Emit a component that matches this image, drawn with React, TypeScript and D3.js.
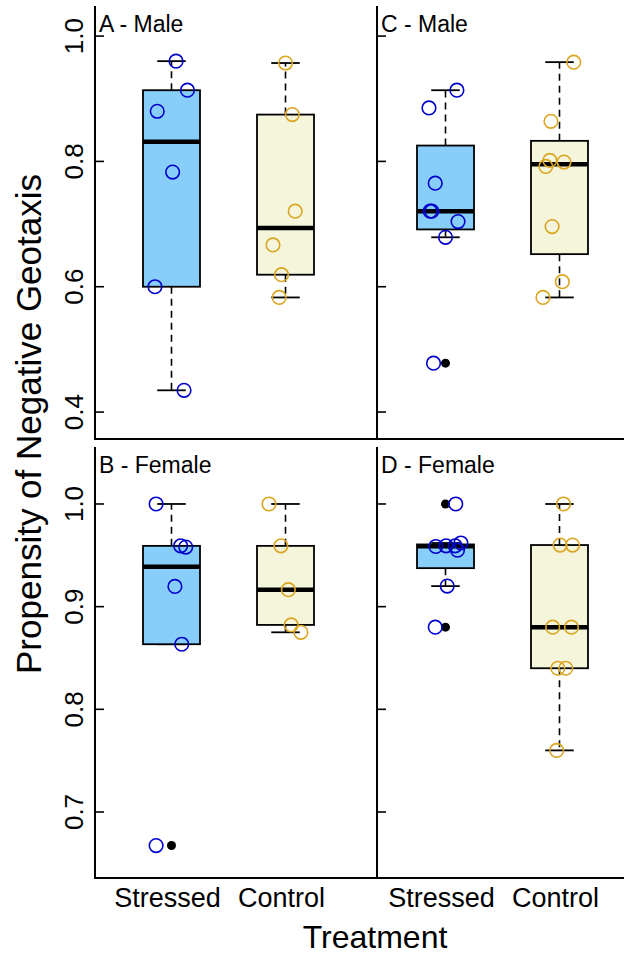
import React from 'react';
import * as d3 from 'd3';

// groups on the x axis
const categories = ['Stressed', 'Control'];
const panelTitles = ['A - Male', 'C - Male', 'B - Female', 'D - Female'];

// propensity values (one array per box)
const aStressed = [0.96, 0.9136, 0.88, 0.783, 0.6, 0.4347];
const aControl = [0.957, 0.8747, 0.7205, 0.6667, 0.6192, 0.5829];
const cStressed = [0.9136, 0.8853, 0.7653, 0.7205, 0.7205, 0.704, 0.6789, 0.478];
const cControl = [0.9584, 0.864, 0.8016, 0.792, 0.7989, 0.696, 0.608, 0.5829];
const bStressed = [1.0, 0.9592, 0.958, 0.9197, 0.8634, 0.6673];
const bControl = [1.0, 0.9592, 0.9165, 0.8822, 0.875];
const dStressed = [1.0, 0.9586, 0.9592, 0.9592, 0.962, 0.955, 0.92, 0.88];
const dControl = [1.0, 0.96, 0.96, 0.88, 0.88, 0.84, 0.84, 0.76];

// horizontal jitter of each point, in group units
const aStressedJit = [0.04, 0.14, -0.125, 0.01, -0.145, 0.11];
const aControlJit = [0.0, 0.06, 0.085, -0.11, -0.035, -0.055];
const cStressedJit = [0.1, -0.145, -0.09, -0.135, -0.12, 0.11, 0.0, -0.105];
const cControlJit = [0.125, -0.075, -0.085, -0.12, 0.04, -0.065, 0.025, -0.145];
const bStressedJit = [-0.135, 0.08, 0.125, 0.03, 0.09, -0.135];
const bControlJit = [-0.145, -0.04, 0.025, 0.05, 0.135];
const dStressedJit = [0.09, -0.085, 0.005, 0.085, 0.135, 0.105, 0.015, -0.09];
const dControlJit = [0.035, 0.005, 0.115, -0.06, 0.105, -0.015, 0.055, -0.025];

// y ticks
const maleTicks = [0.4, 0.6, 0.8, 1.0];
const femaleTicks = [0.7, 0.8, 0.9, 1.0];
const maleLim = [0.357, 1.048];
const femaleLim = [0.6357, 1.0555];

const FONT = "'Liberation Sans', Arial, Helvetica, sans-serif";
const fills = ['#87CEFA', '#F5F5DC'];
const pointCols = ['#0000CD', '#DAA520'];

// R style five number summary + whiskers
function boxStats(values) {
  const x = values.slice().sort(d3.ascending);
  const n = x.length;
  const n4 = Math.floor((n + 3) / 2) / 2;
  const d = [1, n4, (n + 1) / 2, n + 1 - n4, n];
  const fn = d.map((k) => 0.5 * (x[Math.floor(k) - 1] + x[Math.ceil(k) - 1]));
  const iqr = fn[3] - fn[1];
  const lo = fn[1] - 1.5 * iqr;
  const hi = fn[3] + 1.5 * iqr;
  const inside = x.filter((v) => v >= lo && v <= hi);
  return {
    q1: fn[1],
    med: fn[2],
    q3: fn[3],
    wlo: d3.min(inside),
    whi: d3.max(inside),
    out: x.filter((v) => v < lo || v > hi),
  };
}

const panels = [
  { title: panelTitles[0], col: 0, row: 0, groups: [[aStressed, aStressedJit], [aControl, aControlJit]] },
  { title: panelTitles[1], col: 1, row: 0, groups: [[cStressed, cStressedJit], [cControl, cControlJit]] },
  { title: panelTitles[2], col: 0, row: 1, groups: [[bStressed, bStressedJit], [bControl, bControlJit]] },
  { title: panelTitles[3], col: 1, row: 1, groups: [[dStressed, dStressedJit], [dControl, dControlJit]] },
];

const axisX = [95, 377];
const plotX = [114.5, 388.5];
const plotW = 228;
const rowY = [
  { top: 6, bottom: 439 },
  { top: 447, bottom: 878 },
];

function Panel({ p }) {
  const ax = axisX[p.col];
  const { top, bottom } = rowY[p.row];
  const x = d3.scaleLinear().domain([0.5, 2.5]).range([plotX[p.col], plotX[p.col] + plotW]);
  const y = d3
    .scaleLinear()
    .domain(p.row === 0 ? maleLim : femaleLim)
    .range([bottom, top]);
  const ticks = p.row === 0 ? maleTicks : femaleTicks;
  const right = p.col === 0 ? axisX[1] : 640;
  const bw = x(1.25) - x(1);
  const sw = x(1.125) - x(1);

  return (
    <g>
      {p.groups.map(([vals, jit], gi) => {
        const s = boxStats(vals);
        const cx = x(gi + 1);
        return (
          <g key={gi}>
            <line x1={cx} x2={cx} y1={y(s.q3)} y2={y(s.whi)} stroke="#000" strokeWidth={1.6} strokeDasharray="7,5" />
            <line x1={cx} x2={cx} y1={y(s.q1)} y2={y(s.wlo)} stroke="#000" strokeWidth={1.6} strokeDasharray="7,5" />
            <line x1={cx - sw} x2={cx + sw} y1={y(s.whi)} y2={y(s.whi)} stroke="#000" strokeWidth={1.8} />
            <line x1={cx - sw} x2={cx + sw} y1={y(s.wlo)} y2={y(s.wlo)} stroke="#000" strokeWidth={1.8} />
            <rect
              x={cx - bw}
              y={y(s.q3)}
              width={bw * 2}
              height={y(s.q1) - y(s.q3)}
              fill={fills[gi]}
              stroke="#000"
              strokeWidth={1.8}
            />
            <line x1={cx - bw} x2={cx + bw} y1={y(s.med)} y2={y(s.med)} stroke="#000" strokeWidth={4.5} />
            {s.out.map((v, i) => (
              <circle key={i} cx={cx} cy={y(v)} r={4.5} fill="#000" />
            ))}
            {vals.map((v, i) => (
              <circle
                key={'p' + i}
                cx={x(gi + 1 + jit[i])}
                cy={y(v)}
                r={6.8}
                fill="none"
                stroke={pointCols[gi]}
                strokeWidth={1.6}
              />
            ))}
          </g>
        );
      })}
      <line x1={ax} x2={ax} y1={top} y2={bottom + 1} stroke="#000" strokeWidth={2} />
      <line x1={ax} x2={right} y1={bottom} y2={bottom} stroke="#000" strokeWidth={2} />
      {ticks.map((t) => (
        <line key={t} x1={ax} x2={ax + 9} y1={y(t)} y2={y(t)} stroke="#000" strokeWidth={1.6} />
      ))}
      {p.col === 0 &&
        ticks.map((t) => (
          <text
            key={'l' + t}
            transform={`translate(83,${y(t)}) rotate(-90)`}
            textAnchor="middle"
            fontSize={26}
            fontFamily={FONT}
          >
            {d3.format('.1f')(t)}
          </text>
        ))}
      <text x={ax + 4} y={top + 26} fontSize={23} fontFamily={FONT}>
        {p.title}
      </text>
      {p.row === 1 &&
        categories.map((c, i) => (
          <text key={c} x={x(i + 1) - 4} y={907} textAnchor="middle" fontSize={27} fontFamily={FONT}>
            {c}
          </text>
        ))}
    </g>
  );
}

export default function App() {
  return (
    <svg width={624} height={956} style={{ position: 'absolute', left: 0, top: 0, background: '#fff' }}>
      <rect width={624} height={956} fill="#fff" />
      {panels.map((p) => (
        <Panel key={p.title} p={p} />
      ))}
      <text
        transform="translate(41,424) rotate(-90)"
        textAnchor="middle"
        fontSize={35}
        fontFamily={FONT}
      >
        Propensity of Negative Geotaxis
      </text>
      <text x={375} y={948} textAnchor="middle" fontSize={32} fontFamily={FONT}>
        Treatment
      </text>
    </svg>
  );
}
